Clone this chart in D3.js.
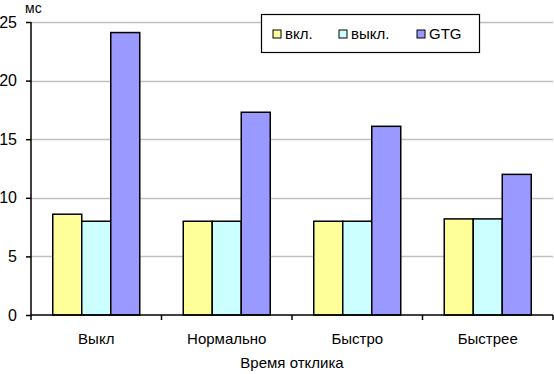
<!DOCTYPE html>
<html>
<head>
<meta charset="utf-8">
<script src="https://cdn.jsdelivr.net/npm/d3@7"></script>
<style>
  body { margin: 0; background: #fff; }
  text { font-family: "Liberation Sans", Arial, sans-serif; fill: #000; }
</style>
</head>
<body>
<div id="chart"></div>
<script>
// categories and series
const categories = ["Выкл", "Нормально", "Быстро", "Быстрее"];
const seriesNames = ["вкл.", "выкл.", "GTG"];
const vkl = [8.6, 8.0, 8.0, 8.2];
const vykl = [8.0, 8.0, 8.0, 8.2];
const gtg = [24.1, 17.3, 16.1, 12.0];
const yTicks = [0, 5, 10, 15, 20, 25];
const colors = ["#ffff99", "#ccffff", "#9999ff"];

const width = 554, height = 374;
const margin = { top: 22, right: 1, bottom: 59, left: 31 };

const svg = d3.select("#chart").append("svg")
    .attr("width", width)
    .attr("height", height);

const x = d3.scaleBand()
    .domain(categories)
    .range([margin.left, width - margin.right]);

// bar width so that the gap between groups is 1.5 bars
const x1 = d3.scaleBand()
    .domain(seriesNames)
    .range([0, x.bandwidth()])
    .paddingOuter(0.75)
    .paddingInner(0);

const y = d3.scaleLinear()
    .domain([0, 25])
    .range([height - margin.bottom, margin.top]);

// gridlines
svg.append("g")
    .selectAll("line")
    .data(yTicks.filter(d => d > 0))
    .join("line")
    .attr("x1", margin.left)
    .attr("x2", width - margin.right)
    .attr("y1", d => Math.round(y(d)) + 0.5)
    .attr("y2", d => Math.round(y(d)) + 0.5)
    .attr("stroke", "#c0c0c0")
    .attr("stroke-width", 1.5);

// bars
const rows = categories.map((c, i) => ({ cat: c, vals: [vkl[i], vykl[i], gtg[i]] }));
svg.append("g")
    .selectAll("g")
    .data(rows)
    .join("g")
    .attr("transform", d => `translate(${x(d.cat)},0)`)
    .selectAll("rect")
    .data(d => d.vals.map((v, j) => ({ name: seriesNames[j], v: v, j: j })))
    .join("rect")
    .attr("x", d => x1(d.name))
    .attr("width", x1.bandwidth())
    .attr("y", d => y(d.v))
    .attr("height", d => y(0) - y(d.v))
    .attr("fill", d => colors[d.j])
    .attr("stroke", "#000")
    .attr("stroke-width", 1.5);

// y axis
const yAxis = svg.append("g")
    .attr("transform", `translate(${margin.left},0)`)
    .call(d3.axisLeft(y).tickValues(yTicks).tickSize(5).tickPadding(9));
yAxis.select(".domain").attr("stroke", "#000").attr("stroke-width", 1.5).attr("d", `M0,${margin.top}V${y(0)}`);
yAxis.selectAll(".tick line").attr("stroke-width", 1.5);
yAxis.selectAll(".tick text").style("font-size", "16px").style("font-family", "Liberation Sans, Arial, sans-serif");

// x axis with ticks between categories
const xg = svg.append("g")
    .attr("transform", `translate(0,${y(0)})`);
xg.append("line")
    .attr("x1", margin.left).attr("x2", width - margin.right)
    .attr("y1", 0).attr("y2", 0)
    .attr("stroke", "#000").attr("stroke-width", 1.5);
const bounds = categories.map(c => x(c)).concat([x(categories[categories.length - 1]) + x.bandwidth()]);
xg.selectAll("line.tk")
    .data(bounds)
    .join("line")
    .attr("class", "tk")
    .attr("x1", d => d).attr("x2", d => d)
    .attr("y1", 0).attr("y2", 5)
    .attr("stroke", "#000").attr("stroke-width", 1.5);
xg.selectAll("text")
    .data(categories)
    .join("text")
    .attr("x", d => x(d) + x.bandwidth() / 2)
    .attr("y", 29)
    .attr("text-anchor", "middle")
    .style("font-size", "15px")
    .text(d => d);

// axis titles
svg.append("text")
    .attr("x", (margin.left + width - margin.right) / 2)
    .attr("y", 368)
    .attr("text-anchor", "middle")
    .style("font-size", "15px")
    .text("Время отклика");

svg.append("text")
    .attr("x", 25)
    .attr("y", 13)
    .style("font-size", "14px")
    .text("мс");

// legend
const legend = svg.append("g");
legend.append("rect")
    .attr("x", 261.5).attr("y", 14.5)
    .attr("width", 218).attr("height", 38)
    .attr("fill", "#fff")
    .attr("stroke", "#000")
    .attr("stroke-width", 1.2);
const legendX = [273, 339, 417];
seriesNames.forEach((name, i) => {
    legend.append("rect")
        .attr("x", legendX[i]).attr("y", 30)
        .attr("width", 8).attr("height", 8)
        .attr("fill", colors[i])
        .attr("stroke", "#000")
        .attr("stroke-width", 1);
    legend.append("text")
        .attr("x", legendX[i] + 12)
        .attr("y", 39)
        .style("font-size", "15px")
        .text(name);
});
</script>
</body>
</html>
